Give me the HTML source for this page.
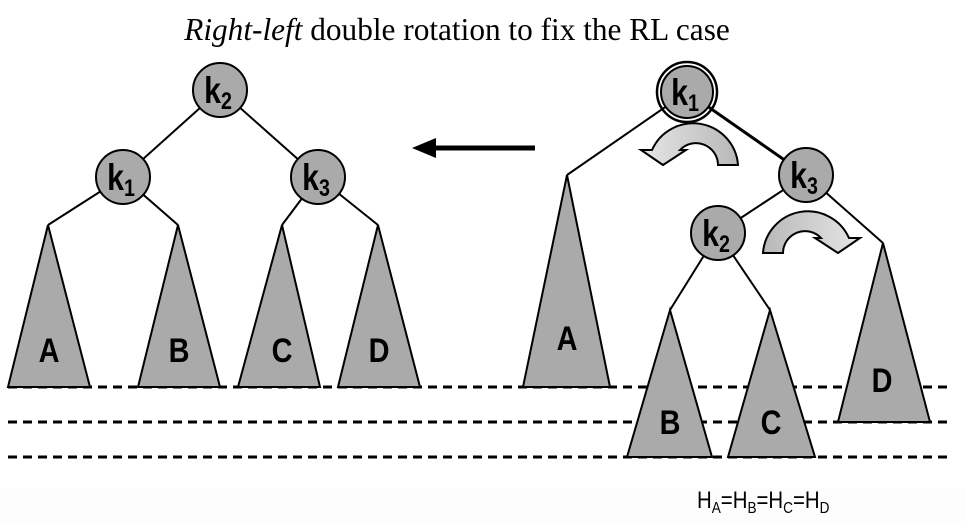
<!DOCTYPE html>
<html><head><meta charset="utf-8"><style>
html,body{margin:0;padding:0;background:#fff}
svg{display:block}
</style></head><body>
<svg width="966" height="522" viewBox="0 0 966 522" font-family="Liberation Sans, sans-serif">
<defs>
<linearGradient id="gl" x1="0" x2="1" y1="0" y2="0"><stop offset="0" stop-color="#e6e6e6"/><stop offset="1" stop-color="#b8b8b8"/></linearGradient>
<linearGradient id="gr" x1="0" x2="1" y1="0" y2="0"><stop offset="0" stop-color="#b8b8b8"/><stop offset="1" stop-color="#e6e6e6"/></linearGradient>
</defs>
<rect x="0" y="488" width="966" height="34" fill="#fdfdfd"/>
<text x="457" y="40" text-anchor="middle" font-family="Liberation Serif, serif" font-size="31.3"><tspan font-style="italic">Right-left</tspan> double rotation to fix the RL case</text>
<g stroke="#000" stroke-width="3" stroke-dasharray="9,6">
<line x1="8" y1="387" x2="952" y2="387"/><line x1="8" y1="422" x2="952" y2="422"/><line x1="8" y1="457" x2="952" y2="457"/>
</g>
<g stroke="#000" stroke-width="2">
<line x1="220" y1="90" x2="123" y2="177"/><line x1="220" y1="90" x2="318" y2="177"/>
<line x1="123" y1="177" x2="48" y2="225"/><line x1="123" y1="177" x2="178" y2="225"/>
<line x1="318" y1="177" x2="282" y2="225"/><line x1="318" y1="177" x2="378" y2="225"/>
<line x1="687" y1="92" x2="567" y2="175"/><line x1="687" y1="92" x2="806" y2="175" stroke-width="3"/>
<line x1="806" y1="175" x2="718" y2="233"/><line x1="806" y1="175" x2="883" y2="243"/>
<line x1="718" y1="233" x2="670" y2="310"/><line x1="718" y1="233" x2="770" y2="310"/>
</g>
<g fill="#aaa" stroke="#000" stroke-width="2">
<polygon points="48,225 8,387 90,387"/>
<polygon points="178,225 138,387 220,387"/>
<polygon points="282,225 238,387 320,387"/>
<polygon points="378,225 338,387 420,387"/>
<polygon points="567,175 523,387 610,387"/>
<polygon points="670,310 627,457 712,457"/>
<polygon points="770,310 728,457 815,457"/>
<polygon points="883,243 838,422 930,422"/>
</g>
<g font-weight="bold" font-size="34" text-anchor="middle">
<text transform="translate(49,362) scale(0.85,1)">A</text>
<text transform="translate(179,362) scale(0.85,1)">B</text>
<text transform="translate(282,362) scale(0.85,1)">C</text>
<text transform="translate(379,362) scale(0.85,1)">D</text>
<text transform="translate(567,350) scale(0.85,1)">A</text>
<text transform="translate(670,434) scale(0.85,1)">B</text>
<text transform="translate(771,434) scale(0.85,1)">C</text>
<text transform="translate(882,392) scale(0.85,1)">D</text>
</g>
<circle cx="687" cy="92" r="30" fill="none" stroke="#000" stroke-width="2.5"/>
<g fill="#aaa" stroke="#000" stroke-width="2">
<circle cx="220" cy="90" r="27"/><circle cx="123" cy="177" r="27"/><circle cx="318" cy="177" r="27"/>
<circle cx="687" cy="92" r="26"/><circle cx="806" cy="175" r="27"/><circle cx="718" cy="233" r="27"/>
</g>
<g font-weight="bold" font-size="37" text-anchor="middle">
<text transform="translate(218,103) scale(0.82,1)">k<tspan font-size="24" dy="6">2</tspan></text>
<text transform="translate(121,190) scale(0.82,1)">k<tspan font-size="24" dy="6">1</tspan></text>
<text transform="translate(316,190) scale(0.82,1)">k<tspan font-size="24" dy="6">3</tspan></text>
<text transform="translate(685,105) scale(0.82,1)">k<tspan font-size="24" dy="6">1</tspan></text>
<text transform="translate(804,188) scale(0.82,1)">k<tspan font-size="24" dy="6">3</tspan></text>
<text transform="translate(716,246) scale(0.82,1)">k<tspan font-size="24" dy="6">2</tspan></text>
</g>
<g>
<line x1="535" y1="148" x2="432" y2="148" stroke="#000" stroke-width="5"/>
<polygon points="412,148 436,138 436,158" fill="#000"/>
</g>
<path d="M738,165 L718,165 A22,22 0 0 0 680,150 L686,150 L663,165 L641,150 L652,150 A45,45 0 0 1 738,165 Z" fill="url(#gl)" stroke="#000" stroke-width="2"/>
<path d="M763,253 L783,253 A22,22 0 0 1 821,238 L815,238 L838,253 L860,238 L849,238 A45,45 0 0 0 763,253 Z" fill="url(#gr)" stroke="#000" stroke-width="2"/>
<text transform="translate(697,508) scale(0.85,1)" font-size="24">H<tspan font-size="16" dy="5">A</tspan><tspan dy="-5">=H</tspan><tspan font-size="16" dy="5">B</tspan><tspan dy="-5">=H</tspan><tspan font-size="16" dy="5">C</tspan><tspan dy="-5">=H</tspan><tspan font-size="16" dy="5">D</tspan></text>
</svg>
</body></html>
